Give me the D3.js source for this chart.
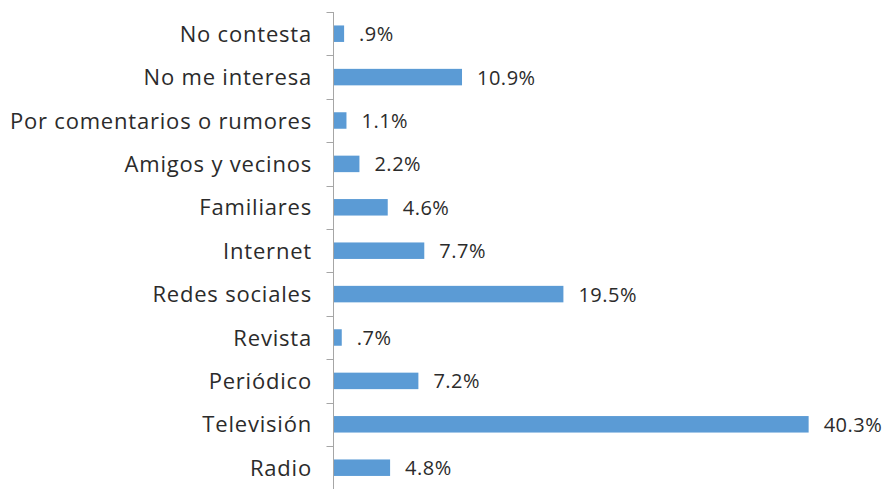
<!DOCTYPE html>
<html>
<head>
<meta charset="utf-8">
<script src="https://cdn.jsdelivr.net/npm/d3@7"></script>
<style>
  html, body { margin: 0; padding: 0; background: #ffffff; }
  svg text { font-family: "Open Sans", Lato, sans-serif; font-weight: 400; fill: #2b2b2b; }
</style>
</head>
<body>
<svg id="chart" width="888" height="489"></svg>
<script>
// Source of information, top to bottom
const categories = [
  "No contesta",
  "No me interesa",
  "Por comentarios o rumores",
  "Amigos y vecinos",
  "Familiares",
  "Internet",
  "Redes sociales",
  "Revista",
  "Periódico",
  "Televisión",
  "Radio"
];
const values = [0.9, 10.9, 1.1, 2.2, 4.6, 7.7, 19.5, 0.7, 7.2, 40.3, 4.8];
const valueLabels = [".9%", "10.9%", "1.1%", "2.2%", "4.6%", "7.7%", "19.5%", ".7%", "7.2%", "40.3%", "4.8%"];

const svg = d3.select("#chart");
const axisX = 333.5;

const y = d3.scaleBand()
  .domain(categories)
  .range([12, 489.4])
  .paddingInner(0.62)
  .paddingOuter(0.31);

const x = d3.scaleLinear()
  .domain([0, 45])
  .range([axisX, axisX + 45 * 11.79]);

const rows = categories.map((c, i) => ({ c, v: values[i], label: valueLabels[i] }));

// Bars
svg.append("g").selectAll("rect")
  .data(rows)
  .join("rect")
  .attr("x", x(0))
  .attr("y", d => y(d.c))
  .attr("width", d => x(d.v) - x(0))
  .attr("height", y.bandwidth())
  .attr("fill", "#5b9bd5");

// Value labels
svg.append("g").selectAll("text")
  .data(rows)
  .join("text")
  .attr("x", d => x(d.v) + 15)
  .attr("y", d => y(d.c) + y.bandwidth() / 2)
  .attr("dy", "0.37em")
  .attr("font-size", 20)
  .attr("letter-spacing", 0.5)
  .text(d => d.label);

// Category axis with tick marks at band boundaries
const step = y.step();
const start = y.range()[0];
const axisG = svg.append("g");
axisG.append("line")
  .attr("x1", axisX).attr("x2", axisX)
  .attr("y1", start).attr("y2", 489)
  .attr("stroke", "#a6a6a6").attr("stroke-width", 1);
axisG.selectAll("line.tick")
  .data(d3.range(categories.length + 1))
  .join("line")
  .attr("class", "tick")
  .attr("x1", axisX - 7).attr("x2", axisX)
  .attr("y1", i => Math.round(start + i * step) + 0.5)
  .attr("y2", i => Math.round(start + i * step) + 0.5)
  .attr("stroke", "#a6a6a6").attr("stroke-width", 1);

axisG.selectAll("text")
  .data(categories)
  .join("text")
  .attr("x", 312)
  .attr("y", d => y(d) + y.bandwidth() / 2)
  .attr("dy", "0.37em")
  .attr("text-anchor", "end")
  .attr("font-size", 22)
  .attr("letter-spacing", 0.8)
  .text(d => d);
</script>
</body>
</html>
